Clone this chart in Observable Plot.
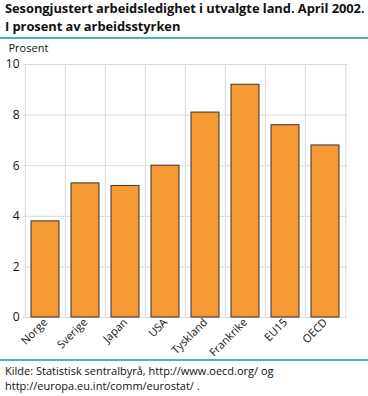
<!DOCTYPE html>
<html><head><meta charset="utf-8">
<script src="https://cdn.jsdelivr.net/npm/d3@7"></script>
<script src="https://cdn.jsdelivr.net/npm/@observablehq/plot@0.6"></script>
<style>
body{margin:0;background:#fff;font-family:"Open Sans",sans-serif;}
#wrap{position:relative;width:368px;height:396px;overflow:hidden;}
#title{position:absolute;left:5px;top:0px;font-weight:bold;font-size:12.9px;line-height:17.5px;color:#111;letter-spacing:-0.05px;white-space:nowrap;}
.line{position:absolute;left:0;width:368px;height:2px;background:#4fb3b3;}
#chart{position:absolute;left:0;top:40px;}
#cap{position:absolute;left:5px;top:363px;font-size:11px;line-height:15px;color:#111;white-space:nowrap;}
</style></head><body>
<div id="wrap">
<div id="title">Sesongjustert arbeidsledighet i utvalgte land. April 2002.<br>I prosent av arbeidsstyrken</div>
<div class="line" style="top:37px"></div>
<div id="chart"></div>
<div class="line" style="top:359px"></div>
<div id="cap">Kilde: Statistisk sentralbyrå, http://www.oecd.org/ og<br>http://europa.eu.int/comm/eurostat/ .</div>
</div>
<script>
const countries = ["Norge","Sverige","Japan","USA","Tyskland","Frankrike","EU15","OECD"];
const values = [3.8, 5.3, 5.2, 6.0, 8.1, 9.2, 7.6, 6.8];
const yTicks = [0,2,4,6,8,10];
const data = countries.map((c,i)=>({country:c, value:values[i]}));
const W = 368, mL = 23, mR = 21;
const bw = (W - mL - mR) / countries.length;
const chart = Plot.plot({
  width: W, height: 319,
  marginLeft: mL, marginRight: mR, marginTop: 24, marginBottom: 42,
  style:{fontFamily:"Open Sans, sans-serif", fontSize:"12px", color:"#111", background:"#fff"},
  x:{domain:countries, padding:0, label:null, axis:null},
  y:{domain:[0,10], ticks:yTicks, label:null, tickSize:0, tickPadding:4},
  marks:[
    Plot.ruleY(yTicks, {stroke:"#d9d9d9", strokeWidth:1}),
    Plot.ruleX(countries, {x:d=>d, dx:-bw/2, stroke:"#d9d9d9", strokeWidth:1}),
    Plot.ruleX([countries[countries.length-1]], {x:d=>d, dx:bw/2, stroke:"#d9d9d9", strokeWidth:1}),
    Plot.barY(data, {x:"country", y:"value", fill:"#f79a34", stroke:"#333", strokeWidth:1, insetLeft:6, insetRight:6}),
    Plot.axisX({fontSize:11, tickSize:0, tickRotate:-45, tickPadding:3, label:null}),
    Plot.text(["Prosent"], {frameAnchor:"top-left", dx:-mL+8, dy:-20, text:d=>d, textAnchor:"start", fontSize:11})
  ]
});
document.getElementById("chart").appendChild(chart);
</script>
</body></html>
